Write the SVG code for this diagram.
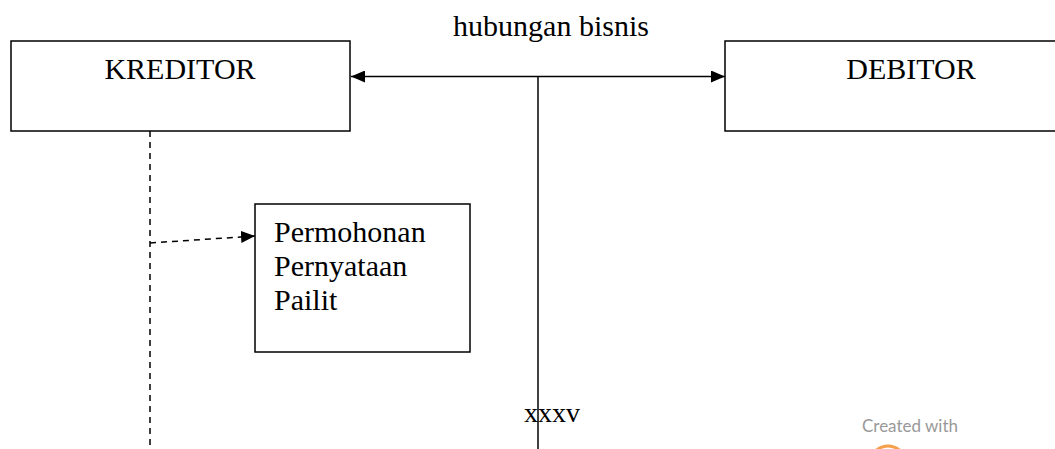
<svg xmlns="http://www.w3.org/2000/svg" width="1055" height="449" viewBox="0 0 1055 449">
<style>
.box{fill:#fff;stroke:#000;stroke-width:1.5}
.t{font-family:"Liberation Serif",serif;font-size:30px;fill:#000}
.ln{stroke:#000;stroke-width:1.5;fill:none}
.dash{stroke:#000;stroke-width:1.5;fill:none;stroke-dasharray:6 5}
</style>
<defs>
<marker id="ah" markerWidth="14" markerHeight="12" refX="14" refY="6" orient="auto-start-reverse" markerUnits="userSpaceOnUse">
<path d="M0,0 L14,6 L0,12 Z" fill="#000"/>
</marker>
</defs>
<rect width="1055" height="449" fill="#fff"/>
<g id="connectors">
<line class="ln" x1="351" y1="76.5" x2="725" y2="76.5" marker-start="url(#ah)" marker-end="url(#ah)"/>
<line class="ln" x1="538" y1="76.5" x2="538" y2="449"/>
<line class="dash" x1="150" y1="131" x2="150" y2="449"/>
<line class="dash" x1="150" y1="243" x2="255" y2="236" marker-end="url(#ah)"/>
</g>
<text class="t" x="551" y="36" text-anchor="middle">hubungan bisnis</text>
<g id="kreditor">
<rect class="box" x="11" y="41" width="339" height="90"/>
<text class="t" x="180" y="79" text-anchor="middle">KREDITOR</text>
</g>
<g id="debitor">
<rect class="box" x="725" y="41" width="340" height="90"/>
<text class="t" x="911" y="79" text-anchor="middle">DEBITOR</text>
</g>
<g id="permohonan">
<rect class="box" x="255" y="204" width="215" height="148"/>
<text class="t" x="274" y="242">Permohonan</text>
<text class="t" x="274" y="276">Pernyataan</text>
<text class="t" x="274" y="310">Pailit</text>
</g>
<text x="552" y="422" text-anchor="middle" font-family="Liberation Serif,serif" font-size="28" fill="#000">xxxv</text>
<text x="862" y="432" font-family="Lato,sans-serif" font-size="17" fill="#999">Created with</text>
<circle cx="888" cy="464" r="18" fill="none" stroke="#f5a04a" stroke-width="3"/>
</svg>
